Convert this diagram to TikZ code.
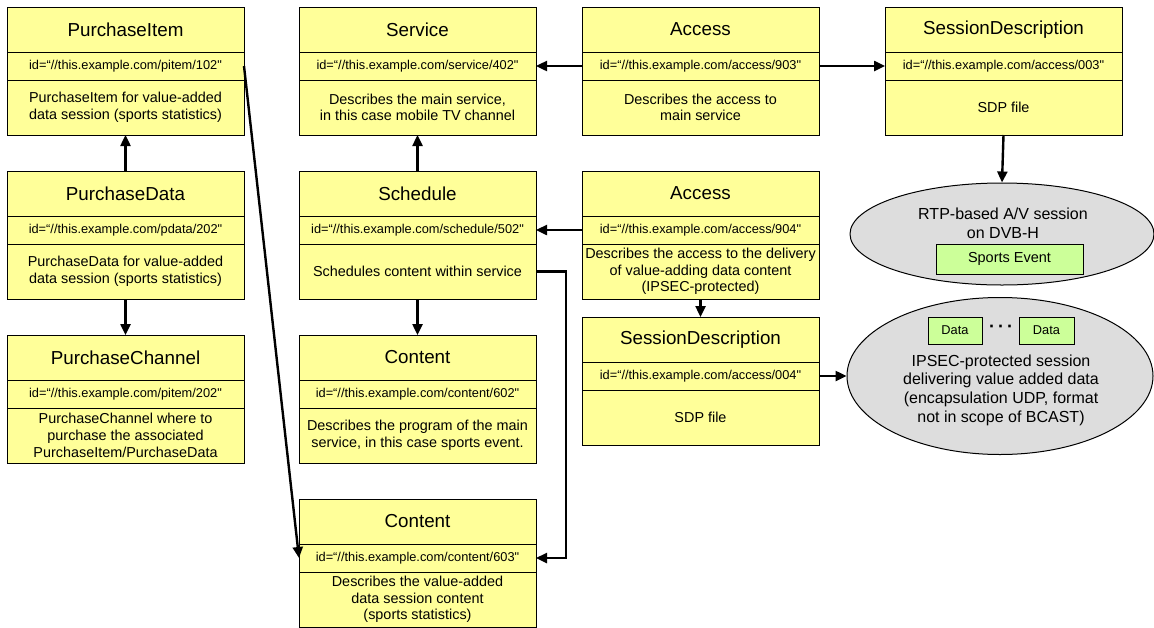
\documentclass[tikz,border=0pt]{standalone}
\usepackage{fontspec}
\setmainfont{Liberation Sans}[Ligatures=TeXOff]
\usetikzlibrary{positioning,shapes.geometric,arrows.meta}
\definecolor{boxyellow}{HTML}{FFFF99}
\definecolor{sessgray}{HTML}{DDDDDD}
\definecolor{evgreen}{HTML}{CCFF99}

\begin{document}
\begin{tikzpicture}[x=1pt, y=-1pt,
		part/.style = {draw, fill=boxyellow, line width=1pt, minimum width=237pt, inner sep=1pt, outer sep=0pt, align=center},
		hdr/.style = {part, minimum height=45pt, font=\fontsize{18.8}{22}\selectfont},
		idrow/.style = {part, minimum height=28pt, font=\fontsize{12.8}{15}\selectfont},
		descrow/.style = {part, minimum height=55pt, font=\fontsize{14.4}{16.7}\selectfont},
		sess/.style = {ellipse, draw, fill=sessgray, line width=1pt, inner sep=0pt},
		sesstext/.style = {align=center, font=\fontsize{16}{18.7}\selectfont},
		evbox/.style = {draw, fill=evgreen, line width=1pt, inner sep=0pt},
		conn/.style = {line width=2.4pt, -{Triangle[length=11pt, width=10pt]}}]
		    \useasboundingbox (0,0) rectangle (1154,627);

		    % purchase column
		    \node[hdr, anchor=north west] (pith) at (7,7) {PurchaseItem};
		    \node[idrow, below=0pt of pith] (piti) {id=“//this.example.com/pitem/102"};
		    \node[descrow, below=0pt of piti] (pitd) {PurchaseItem for value-added\\data session (sports statistics)};

		    \node[hdr, anchor=north west] (pdh) at (7,171) {PurchaseData};
		    \node[idrow, below=0pt of pdh] (pdi) {id=“//this.example.com/pdata/202"};
		    \node[descrow, below=0pt of pdi] (pdd) {PurchaseData for value-added\\data session (sports statistics)};

		    \node[hdr, anchor=north west] (pchh) at (7,335) {PurchaseChannel};
		    \node[idrow, below=0pt of pchh] (pchi) {id=“//this.example.com/pitem/202"};
		    \node[descrow, below=0pt of pchi] (pchd) {PurchaseChannel where to\\purchase the associated\\PurchaseItem/PurchaseData};

		    % service column
		    \node[hdr, anchor=north west] (serh) at (299,7) {Service};
		    \node[idrow, below=0pt of serh] (seri) {id=“//this.example.com/service/402"};
		    \node[descrow, below=0pt of seri] (serd) {Describes the main service,\\in this case mobile TV channel};

		    \node[hdr, anchor=north west] (schh) at (299,171) {Schedule};
		    \node[idrow, below=0pt of schh] (schi) {id=“//this.example.com/schedule/502"};
		    \node[descrow, below=0pt of schi] (schd) {Schedules content within service};

		    \node[hdr, anchor=north west] (con1h) at (299,335) {Content};
		    \node[idrow, below=0pt of con1h] (con1i) {id=“//this.example.com/content/602"};
		    \node[descrow, below=0pt of con1i] (con1d) {Describes the program of the main\\service, in this case sports event.};

		    \node[hdr, anchor=north west] (con2h) at (299,499) {Content};
		    \node[idrow, below=0pt of con2h] (con2i) {id=“//this.example.com/content/603"};
		    \node[descrow, below=0pt of con2i] (con2d) {Describes the value-added\\data session content\\(sports statistics)};

		    % access column
		    \node[hdr, anchor=north west] (acc1h) at (582,7) {Access};
		    \node[idrow, below=0pt of acc1h] (acc1i) {id=“//this.example.com/access/903"};
		    \node[descrow, below=0pt of acc1i] (acc1d) {Describes the access to\\main service};

		    \node[hdr, anchor=north west] (acc2h) at (582,171) {Access};
		    \node[idrow, below=0pt of acc2h] (acc2i) {id=“//this.example.com/access/904"};
		    \node[descrow, below=0pt of acc2i] (acc2d) {Describes the access to the delivery\\of value-adding data content\\(IPSEC-protected)};

		    \node[hdr, anchor=north west] (sd2h) at (582,317) {SessionDescription};
		    \node[idrow, below=0pt of sd2h] (sd2i) {id=“//this.example.com/access/004"};
		    \node[descrow, below=0pt of sd2i] (sd2d) {SDP file};

		    \node[hdr, anchor=north west] (sd1h) at (885,7) {SessionDescription};
		    \node[idrow, below=0pt of sd1h] (sd1i) {id=“//this.example.com/access/003"};
		    \node[descrow, below=0pt of sd1i] (sd1d) {SDP file};

		    % sessions
		    \node[sess, minimum width=304pt, minimum height=102pt] (rtp) at (1002,234) {};
		    \node[sesstext] (rtptxt) at (1003,223) {RTP-based A/V session\\on DVB-H};
		    \node[evbox, minimum width=147pt, minimum height=30pt, font=\fontsize{14.5}{17}\selectfont] (sports) at (1009.5,259) {Sports Event};

		    \node[sess, minimum width=306pt, minimum height=157pt] (ipsec) at (1000,376) {};
		    \node[evbox, minimum width=54pt, minimum height=27pt, font=\fontsize{12.8}{15}\selectfont] (data1) at (955,330.5) {Data};
		    \node[evbox, minimum width=55pt, minimum height=27pt, font=\fontsize{12.8}{15}\selectfont] (data2) at (1046.5,330.5) {Data};
		    \node[font=\fontsize{18}{18}\selectfont\bfseries] (dots) at (1001,329) {·\,·\,·};
		    \node[sesstext] (ipsectxt) at (1001,390) {IPSEC-protected session\\delivering value added data\\(encapsulation UDP, format\\not in scope of BCAST)};

		    % references
		    \draw[conn] (pdh.north) -- (pitd.south);
		    \draw[conn] (pdd.south) -- (pchh.north);
		    \draw[conn] (piti.east) -- (con2i.west);
		    \draw[conn] (schh.north) -- (serd.south);
		    \draw[conn] (schd.south) -- (con1h.north);
		    \draw[conn] (schd.east) -- ++(30,0) |- (con2i.east);
		    \draw[conn] (acc1i.west) -- (seri.east);
		    \draw[conn] (acc1i.east) -- (sd1i.west);
		    \draw[conn] (acc2i.west) -- (schi.east);
		    \draw[conn] (acc2d.south) -- (sd2h.north);
		    \draw[conn] (sd1d.south) -- (rtp.north);
		    \draw[conn] (sd2i.east) -- (ipsec.west);
		\end{tikzpicture}
\end{document}
